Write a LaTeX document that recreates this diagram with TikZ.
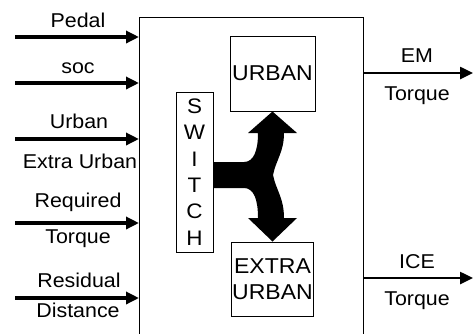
\documentclass[tikz,border=0pt]{standalone}
\usepackage{fontspec}
\setmainfont{Liberation Sans}[FakeStretch=1.07]
\usetikzlibrary{arrows.meta}
\begin{document}
\begin{tikzpicture}[x=1pt,y=-1pt,
  lbl/.style={font=\fontsize{20}{24}\selectfont, anchor=base, inner sep=0pt},
  blk/.style={draw, line width=1pt, inner sep=0pt, align=center},
  boxtxt/.style={blk, font=\fontsize{21.5}{26}\selectfont},
  inarrow/.style={line width=3.5pt, -{Triangle[length=13pt,width=12pt]}},
  outarrow/.style={line width=2.5pt, -{Triangle[length=13pt,width=12pt]}}
]
\useasboundingbox (0,0) rectangle (473,333);
% main block
\node (ctrl) [blk, minimum width=224pt, minimum height=340pt, anchor=north west] at (139,17) {};
% inner blocks
\node (urban) [boxtxt, minimum width=85pt, minimum height=75pt] at (272.5,73.5) {URBAN};
\node (extra) [boxtxt, minimum width=82pt, minimum height=74pt] at (272.5,279) {EXTRA\\URBAN};
\node (switch) [blk, font=\fontsize{21}{26.3}\selectfont, minimum width=37pt, minimum height=160pt] at (194.5,172) {S\\W\\I\\T\\C\\H};
% fork arrow
\fill (switch.east |- 0,162) -- (244,162) .. controls (254,162) and (258,150) .. (258,133)
  -- (248,133) -- (urban.south) -- (297,133) -- (284,133)
  .. controls (284,152) and (276,160) .. (273,175)
  .. controls (276,190) and (284,198) .. (284,218)
  -- (297,218) -- (extra.north) -- (248,218) -- (258,218)
  .. controls (258,200) and (254,188) .. (244,188) -- (switch.east |- 0,188) -- cycle;
% inputs
\coordinate (i1) at (15,37);
\coordinate (i2) at (15,83);
\coordinate (i3) at (15,139);
\coordinate (i4) at (15,223);
\coordinate (i5) at (15,298);
\foreach \c in {i1,i2,i3,i4,i5} \draw[inarrow] (\c) -- (\c -| ctrl.west);
\node (lp) [lbl] at (78,27) {Pedal};
\node (ls) [lbl] at (78,73) {soc};
\node (lu) [lbl] at (79,128) {Urban};
\node (le) [lbl] at (80,168) {Extra Urban};
\node (lr) [lbl] at (78,207) {Required};
\node (lt) [lbl] at (78,243) {Torque};
\node (lres) [lbl] at (79,287) {Residual};
\node (ld) [lbl] at (78,317) {Distance};
% outputs
\coordinate (o1) at (473,73);
\coordinate (o2) at (473,278);
\draw[outarrow] (o1 -| ctrl.east) -- (o1);
\draw[outarrow] (o2 -| ctrl.east) -- (o2);
\node (lem) [lbl] at (417,62) {EM};
\node (lemt) [lbl] at (417,100) {Torque};
\node (lice) [lbl] at (417,268) {ICE};
\node (licet) [lbl] at (417,305) {Torque};
\end{tikzpicture}
\end{document}
